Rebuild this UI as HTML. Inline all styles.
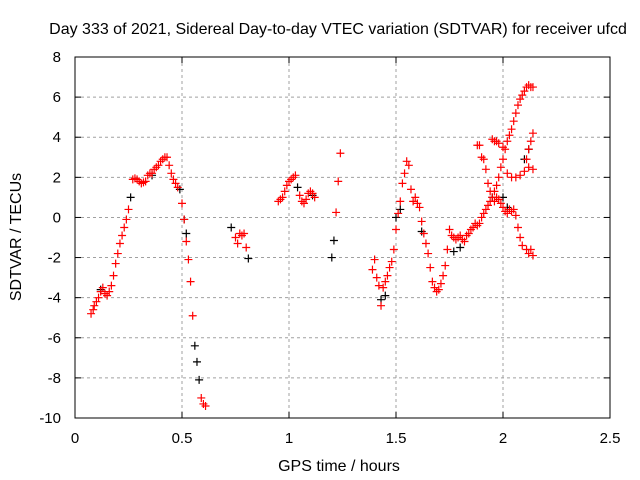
<!DOCTYPE html>
<html><head><meta charset="utf-8"><style>
body{margin:0;background:#fff}
svg{display:block;font-family:"Liberation Sans",sans-serif}
</style></head><body>
<svg id="chart" width="640" height="480">
<text x="338" y="34" font-size="16" text-anchor="middle">Day 333 of 2021, Sidereal Day-to-day VTEC variation (SDTVAR) for receiver ufcd</text>
<g id="grid"></g>
<g id="axes"></g>
<g id="black"></g>
<g id="red"></g>
<text x="339" y="471" font-size="16" text-anchor="middle">GPS time / hours</text>
<text transform="translate(21,237) rotate(-90)" font-size="16" text-anchor="middle">SDTVAR / TECUs</text>
</svg>
<script>
const xTicks=[0,0.5,1,1.5,2,2.5];
const xTickLabels=["0","0.5","1","1.5","2","2.5"];
const yTicks=[8,6,4,2,0,-2,-4,-6,-8,-10];
const yTickLabels=["8","6","4","2","0","-2","-4","-6","-8","-10"];
const redX=[0.075,0.085,0.09,0.1,0.11,0.12,0.13,0.14,0.15,0.16,0.17,0.18,0.19,0.2,0.21,0.22,0.23,0.24,0.25,0.27,0.28,0.29,0.3,0.31,0.32,0.33,0.34,0.35,0.36,0.37,0.38,0.39,0.4,0.41,0.42,0.43,0.44,0.45,0.46,0.47,0.48,0.5,0.51,0.52,0.53,0.54,0.55,0.59,0.6,0.61,
0.75,0.76,0.77,0.78,0.79,0.8,
0.95,0.96,0.97,0.98,0.99,1.0,1.01,1.02,1.03,1.05,1.06,1.07,1.08,1.09,1.1,1.11,1.12,1.22,1.23,1.24,
1.39,1.40,1.41,1.42,1.43,1.44,1.45,1.46,1.47,1.48,1.49,1.5,1.51,1.52,1.53,1.54,1.55,1.56,1.57,1.58,1.59,1.6,1.61,1.62,1.63,1.64,1.65,1.66,1.67,1.68,1.69,1.70,1.71,1.72,1.73,1.74,1.75,1.76,1.77,1.78,1.79,1.8,1.81,1.82,1.83,1.84,1.85,1.86,1.87,1.88,1.89,1.9,1.91,1.92,1.93,1.94,1.95,1.96,1.97,1.98,1.99,2.0,2.01,2.02,2.03,2.04,2.05,2.06,2.07,2.08,2.09,2.1,2.11,2.12,2.13,2.14,
1.88,1.89,1.9,1.91,1.92,1.93,1.94,1.96,1.97,1.98,1.99,2.0,2.01,2.02,2.03,2.04,2.05,2.06,2.07,2.08,2.09,2.11,2.12,2.13,2.14,
1.95,1.96,1.97,1.98,2.0,2.02,2.04,2.06,2.08,2.1,2.12,2.14,2.11,2.12,2.13,2.14];
const redY=[-4.8,-4.6,-4.4,-4.2,-4.0,-3.7,-3.5,-3.8,-3.9,-3.7,-3.4,-2.9,-2.3,-1.8,-1.3,-0.9,-0.5,-0.1,0.4,1.9,1.95,1.9,1.8,1.7,1.75,1.8,2.1,2.2,2.2,2.4,2.5,2.6,2.8,2.9,3.0,3.0,2.6,2.2,1.9,1.7,1.5,0.7,-0.1,-1.2,-2.1,-3.2,-4.9,-9.0,-9.3,-9.4,
-1.0,-1.3,-0.8,-0.9,-0.8,-1.5,
0.8,0.9,1.0,1.3,1.6,1.8,1.9,2.0,2.1,1.1,0.8,0.7,0.9,1.2,1.3,1.2,1.0,0.25,1.8,3.2,
-2.6,-2.1,-3.0,-3.4,-4.4,-3.5,-3.2,-2.9,-2.5,-2.2,-1.6,-0.6,0.2,0.8,1.7,2.2,2.8,2.6,1.4,0.8,1.0,0.7,0.5,-0.2,-0.8,-1.3,-1.8,-2.5,-3.2,-3.5,-3.7,-3.6,-3.3,-2.9,-2.4,-1.6,-0.6,-0.9,-1.0,-1.1,-1.0,-0.9,-1.1,-1.2,-0.9,-0.8,-0.6,-0.5,-0.3,-0.4,-0.3,0.0,0.2,0.4,0.6,0.8,1.0,1.3,1.6,2.0,2.5,2.9,3.4,3.8,4.1,4.4,4.8,5.2,5.6,5.9,6.1,6.3,6.5,6.6,6.5,6.5,
3.6,3.6,3.0,2.9,2.4,1.7,1.3,0.8,1.0,0.9,0.7,0.5,0.3,0.2,0.4,0.3,0.4,0.1,-0.5,-1.0,-1.4,-1.6,-1.8,-1.6,-1.9,
3.9,3.8,3.8,3.7,3.5,2.2,2.0,2.0,2.1,2.3,2.5,2.4,2.9,3.4,3.8,4.2];
const blackX=[0.26,0.49,0.51,0.52,0.56,0.57,0.58,0.73,0.81,1.04,1.11,1.2,1.21,1.43,1.45,1.5,1.52,1.62,1.77,1.8,1.95,2.0,2.02,2.1,2.12,0.12,0.36];
const blackY=[1.0,1.4,-0.1,-0.8,-6.4,-7.2,-8.1,-0.5,-2.05,1.5,1.1,-2.0,-1.15,-4.1,-3.9,0.0,0.4,-0.7,-1.7,-1.5,1.0,1.0,0.5,2.9,3.4,-3.6,2.1];
const L=75,R=610,T=57,B=418;
const xs=v=>L+(v-0)/2.5*(R-L);
const ys=v=>T+(8-v)/18*(B-T);
const NS="http://www.w3.org/2000/svg";
function mk(tag,attrs,parent){const e=document.createElementNS(NS,tag);for(const k in attrs)e.setAttribute(k,attrs[k]);parent.appendChild(e);return e;}
const grid=document.getElementById('grid'),axes=document.getElementById('axes');
xTicks.forEach((t,i)=>{
  const x=xs(t);
  if(t>0&&t<2.5){const g=mk('line',{x1:x,x2:x,y1:T,y2:B,stroke:'#a0a0a0','stroke-dasharray':'3,3'},grid);
  
  }
  mk('line',{x1:x,x2:x,y1:B,y2:B-6,stroke:'#000'},axes);
  mk('line',{x1:x,x2:x,y1:T,y2:T+6,stroke:'#000'},axes);
  const tx=mk('text',{x:x,y:B+25,'font-size':15,'text-anchor':'middle'},axes);
  tx.textContent=xTickLabels[i];
  
  
});
yTicks.forEach((t,i)=>{
  const y=ys(t);
  if(t<8&&t>-10){const g=mk('line',{x1:L,x2:R,y1:y,y2:y,stroke:'#a0a0a0','stroke-dasharray':'3,3'},grid);
  
  }
  mk('line',{x1:L,x2:L+6,y1:y,y2:y,stroke:'#000'},axes);
  mk('line',{x1:R,x2:R-6,y1:y,y2:y,stroke:'#000'},axes);
  const tx=mk('text',{x:L-14,y:y+5,'font-size':15,'text-anchor':'end'},axes);
  tx.textContent=yTickLabels[i];
  
  
});
mk('rect',{x:L,y:T,width:R-L,height:B-T,fill:'none',stroke:'#000'},axes);
function plus(g,x,y,c){const p=mk('path',{d:`M${x-4},${y}H${x+4}M${x},${y-4}V${y+4}`,stroke:c,'stroke-width':1.2},g);return p;}
const bg=document.getElementById('black');
blackX.forEach((v,i)=>{const p=plus(bg,xs(v),ys(blackY[i]),'#000');

});
const rg=document.getElementById('red');
redX.forEach((v,i)=>{const p=plus(rg,xs(v),ys(redY[i]),'#ff0000');

});
</script>
</body></html>
